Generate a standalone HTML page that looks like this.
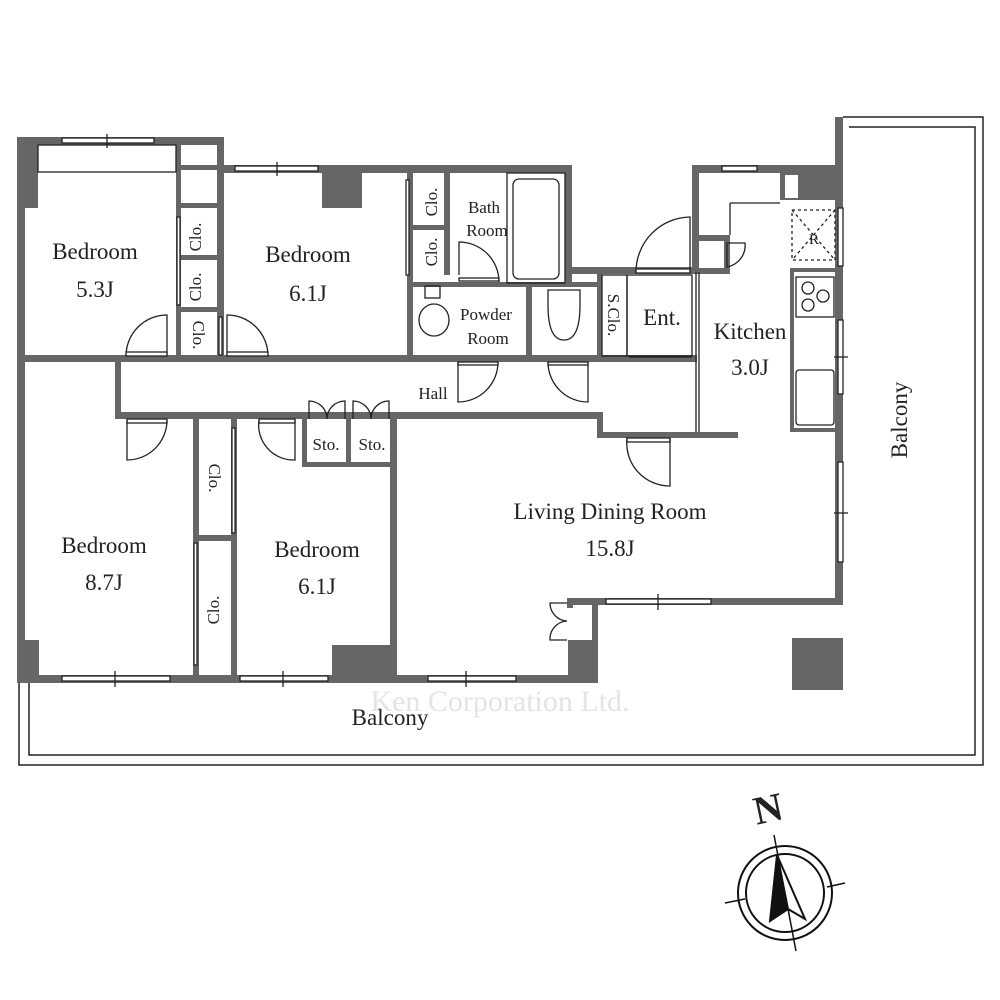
<!DOCTYPE html>
<html><head><meta charset="utf-8"><style>
html,body{margin:0;padding:0;background:#fff;}
svg{display:block}
text{font-family:"Liberation Serif",serif;fill:#222;}
</style></head><body>
<svg width="1000" height="1000" viewBox="0 0 1000 1000" xmlns="http://www.w3.org/2000/svg">
<rect width="1000" height="1000" fill="#fff"/>
<g fill="none" stroke="#222" stroke-width="1.5">
<polyline points="843,117 983,117 983,765 19,765 19,683"/>
<polyline points="849,127 975,127 975,755 29,755 29,683"/>
</g>
<g fill="#666">
<rect x="17" y="137" width="8" height="546"/>
<rect x="17" y="137" width="207" height="8"/>
<rect x="17" y="137" width="21" height="71"/>
<rect x="17" y="640" width="22" height="43"/>
<rect x="17" y="675" width="581" height="8"/>
<rect x="176" y="137" width="5" height="225"/>
<rect x="217" y="137" width="7" height="225"/>
<rect x="176" y="165" width="48" height="5"/>
<rect x="176" y="203" width="48" height="5"/>
<rect x="176" y="255" width="48" height="5"/>
<rect x="176" y="307" width="48" height="5"/>
<rect x="217" y="165" width="355" height="8"/>
<rect x="322" y="172" width="40" height="36"/>
<rect x="407" y="165" width="6" height="197"/>
<rect x="413" y="225" width="34" height="5"/>
<rect x="444" y="165" width="6" height="110"/>
<rect x="565" y="165" width="7" height="117"/>
<rect x="572" y="267" width="127" height="7"/>
<rect x="407" y="282" width="190" height="5"/>
<rect x="407" y="282" width="6" height="80"/>
<rect x="526" y="282" width="6" height="80"/>
<rect x="597" y="272" width="5" height="90"/>
<rect x="17" y="355" width="680" height="7"/>
<rect x="115" y="355" width="6" height="64"/>
<rect x="115" y="412" width="488" height="7"/>
<rect x="597" y="412" width="6" height="26"/>
<rect x="597" y="432" width="141" height="6"/>
<rect x="193" y="419" width="6" height="256"/>
<rect x="231" y="419" width="6" height="256"/>
<rect x="193" y="535" width="44" height="6"/>
<rect x="390" y="419" width="7" height="256"/>
<rect x="332" y="645" width="65" height="30"/>
<rect x="302" y="419" width="5" height="48"/>
<rect x="346" y="419" width="5" height="48"/>
<rect x="302" y="462" width="95" height="5"/>
<rect x="568" y="640" width="30" height="43"/>
<rect x="592" y="598" width="6" height="85"/>
<rect x="567" y="598" width="276" height="7"/>
<rect x="567" y="598" width="6" height="10"/>
<rect x="692" y="165" width="7" height="107"/>
<rect x="692" y="165" width="146" height="8"/>
<rect x="780" y="165" width="58" height="35"/>
<rect x="692" y="235" width="38" height="6"/>
<rect x="724" y="235" width="6" height="37"/>
<rect x="692" y="268" width="38" height="6"/>
<rect x="835" y="117" width="8" height="488"/>
<rect x="790" y="268" width="48" height="4"/>
<rect x="790" y="268" width="4" height="164"/>
<rect x="790" y="428" width="48" height="4"/>
<rect x="792" y="638" width="51" height="52"/>
</g>
<rect x="785" y="175" width="13" height="23" fill="#fff"/>
<g fill="none" stroke="#222" stroke-width="1.3">
<rect x="62" y="138" width="92" height="5" fill="#fff"/><line x1="107" y1="134" x2="107" y2="148"/>
<rect x="235" y="166" width="83" height="5" fill="#fff"/><line x1="277" y1="162" x2="277" y2="176"/>
<rect x="722" y="166" width="35" height="5" fill="#fff"/>
<rect x="62" y="676" width="108" height="5" fill="#fff"/><line x1="115" y1="671" x2="115" y2="687"/>
<rect x="240" y="676" width="88" height="5" fill="#fff"/><line x1="283" y1="671" x2="283" y2="687"/>
<rect x="428" y="676" width="88" height="5" fill="#fff"/><line x1="466" y1="671" x2="466" y2="687"/>
<rect x="606" y="599" width="105" height="5" fill="#fff"/><line x1="658" y1="594" x2="658" y2="610"/>
<rect x="838" y="462" width="5" height="100" fill="#fff"/><line x1="834" y1="513" x2="848" y2="513"/>
<rect x="838" y="320" width="5" height="74" fill="#fff"/><line x1="834" y1="357" x2="848" y2="357"/>
<rect x="838" y="208" width="5" height="58" fill="#fff"/>
<rect x="38" y="145" width="138" height="27"/>
<rect x="177" y="217" width="3" height="88" fill="#fff"/>
<rect x="406" y="180" width="3" height="95" fill="#fff"/>
<rect x="232" y="428" width="3" height="105" fill="#fff"/>
<rect x="194" y="543" width="3" height="122" fill="#fff"/>
<rect x="219" y="317" width="3" height="38" fill="#fff"/>
<path d="M167,356 V315 A41,41 0 0 0 126,356"/><rect x="126" y="352" width="41" height="4" fill="#fff"/>
<path d="M227,356 V315 A41,41 0 0 1 268,356"/><rect x="227" y="352" width="41" height="4" fill="#fff"/>
<path d="M127,420 V460 A40,40 0 0 0 167,420"/><rect x="127" y="419" width="40" height="4"/>
<path d="M259,420 A35,35 0 0 0 295,460 V420"/><rect x="259" y="419" width="36" height="4"/>
<path d="M458,362 V402 A40,40 0 0 0 498,362"/><rect x="458" y="362" width="40" height="3"/>
<path d="M588,362 V402 A40,40 0 0 1 548,362"/><rect x="548" y="362" width="40" height="3"/>
<path d="M459,275 V242 A40,40 0 0 1 499,282"/><rect x="459" y="278" width="40" height="3"/>
<path d="M690,272 V217 A55,55 0 0 0 636,272"/><rect x="636" y="269" width="54" height="4" fill="#fff"/>
<path d="M670,438 V486 A43,43 0 0 1 627,438"/><rect x="627" y="438" width="43" height="4"/>
<path d="M727,243 H745 A22,22 0 0 1 727,267 Z"/>
<line x1="730" y1="203" x2="780" y2="203"/><line x1="730" y1="203" x2="730" y2="235"/>
<line x1="696" y1="272" x2="696" y2="432"/><line x1="699" y1="272" x2="699" y2="432"/>
<line x1="629" y1="357" x2="692" y2="357"/>
<path d="M309,419 V401 A18,18 0 0 1 327,419 A18,18 0 0 1 345,401 V419"/>
<path d="M353,419 V401 A18,18 0 0 1 371,419 A18,18 0 0 1 389,401 V419"/>
<path d="M567,603 H550 A18,18 0 0 0 567,621 A18,18 0 0 0 550,640 H567"/>
<rect x="507" y="173" width="58" height="110"/>
<rect x="513" y="179" width="46" height="100" rx="6"/>
<ellipse cx="434" cy="320" rx="15" ry="16"/>
<rect x="425" y="286" width="15" height="12"/>
<path d="M548,290 H580 V305 Q580,340 564,340 Q548,340 548,305 Z"/>
<rect x="602" y="275" width="25" height="81"/>
<rect x="627" y="275" width="65" height="81"/>
<rect x="792" y="210" width="43" height="50" stroke-dasharray="3,3"/>
<line x1="792" y1="210" x2="835" y2="260" stroke-dasharray="3,3"/>
<line x1="835" y1="210" x2="792" y2="260" stroke-dasharray="3,3"/>
<rect x="796" y="277" width="38" height="40"/>
<circle cx="808" cy="288" r="6"/><circle cx="823" cy="296" r="6"/><circle cx="808" cy="305" r="6"/>
<rect x="796" y="370" width="38" height="55" rx="3"/>
</g>
<g transform="translate(785,893)" fill="none" stroke="#111" stroke-width="2">
<circle r="47"/><circle r="39"/>
<line x1="-11" y1="-58" x2="11" y2="58" stroke-width="1.5"/>
<line x1="-60" y1="10" x2="-40" y2="6" stroke-width="1.5"/><line x1="42" y1="-6" x2="60" y2="-10" stroke-width="1.5"/>
<path d="M-8,-38 L-15,28 L3,16 Z" fill="#111"/>
<path d="M-8,-38 L20,26 L3,16" />
</g>
<text x="768" y="822" font-size="40" font-weight="bold" text-anchor="middle" fill="#111" transform="rotate(-12 768 808)">N</text>
<g font-size="23" text-anchor="middle">
<text x="95" y="259">Bedroom</text><text x="95" y="297">5.3J</text>
<text x="308" y="262">Bedroom</text><text x="308" y="301">6.1J</text>
<text x="104" y="553">Bedroom</text><text x="104" y="590">8.7J</text>
<text x="317" y="557">Bedroom</text><text x="317" y="594">6.1J</text>
<text x="610" y="519">Living Dining Room</text><text x="610" y="556">15.8J</text>
<text x="750" y="339">Kitchen</text><text x="750" y="375">3.0J</text>
<text x="662" y="325">Ent.</text>
<text x="390" y="725">Balcony</text>
<text x="907" y="420" transform="rotate(-90 907 420)">Balcony</text>
</g>
<g font-size="17" text-anchor="middle">
<text x="484" y="213">Bath</text><text x="487" y="236">Room</text>
<text x="486" y="320">Powder</text><text x="488" y="344">Room</text>
<text x="433" y="399">Hall</text>
<text x="326" y="450">Sto.</text><text x="372" y="450">Sto.</text>
<text transform="translate(201,237) rotate(-90)">Clo.</text>
<text transform="translate(201,287) rotate(-90)">Clo.</text>
<text transform="translate(193,335) rotate(90)">Clo.</text>
<text transform="translate(437,202) rotate(-90)">Clo.</text>
<text transform="translate(437,252) rotate(-90)">Clo.</text>
<text transform="translate(209,478) rotate(90)">Clo.</text>
<text transform="translate(219,610) rotate(-90)">Clo.</text>
<text transform="translate(608,315) rotate(90)">S.Clo.</text>
<text x="814" y="244" font-size="15">R</text>
</g>
<text x="500" y="711" font-size="30" font-family="Liberation Sans,sans-serif" text-anchor="middle" style="fill:#e4e4e4">Ken Corporation Ltd.</text>
</svg>
</body></html>
